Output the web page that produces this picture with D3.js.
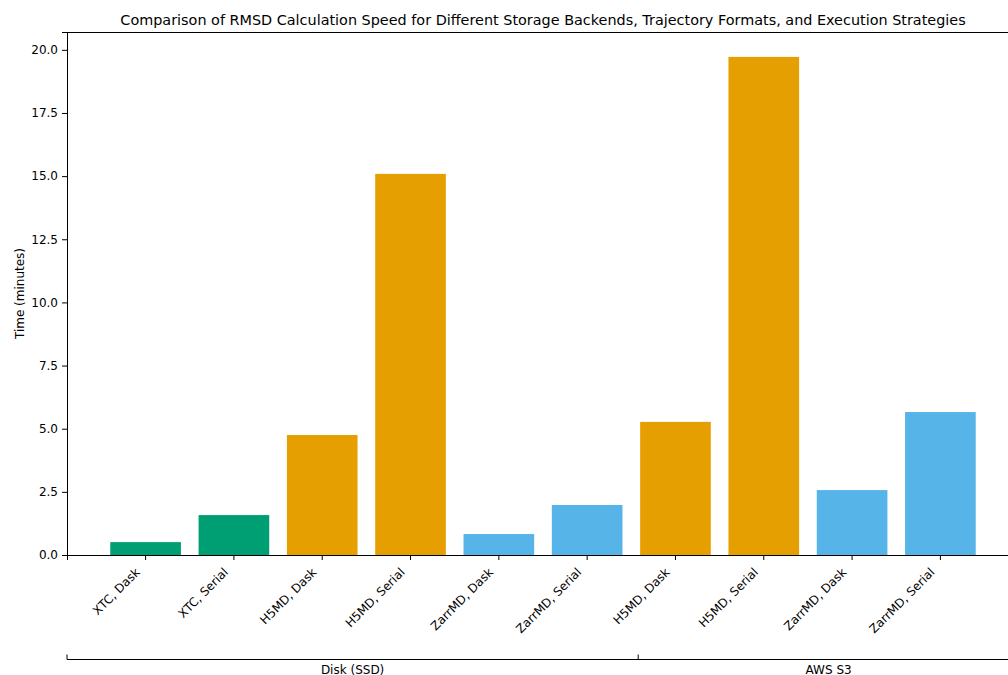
<!DOCTYPE html>
<html>
<head>
<meta charset="utf-8">
<script src="https://cdn.jsdelivr.net/npm/d3@7"></script>
<style>
  html, body { margin: 0; padding: 0; background: #fff; overflow: hidden; }
  svg { display: block; font-family: 'DejaVu Sans', sans-serif; }
</style>
</head>
<body>
<svg id="chart" width="1008" height="675"></svg>
<script>
const tickLabels = ['XTC, Dask', 'XTC, Serial', 'H5MD, Dask', 'H5MD, Serial', 'ZarrMD, Dask', 'ZarrMD, Serial',
                    'H5MD, Dask', 'H5MD, Serial', 'ZarrMD, Dask', 'ZarrMD, Serial']
const formats    = ['XTC', 'XTC', 'H5MD', 'H5MD', 'ZarrMD', 'ZarrMD', 'H5MD', 'H5MD', 'ZarrMD', 'ZarrMD']
const times      = [0.51, 1.58, 4.75, 15.09, 0.83, 1.98, 5.27, 19.72, 2.57, 5.66]
const storage    = ['Disk (SSD)', 'AWS S3']
const storageN   = [6, 4]
const yTicks     = [0, 2.5, 5, 7.5, 10, 12.5, 15, 17.5, 20]

const FORMAT_COLORS = { XTC: '#009e73', H5MD: '#e69f00', ZarrMD: '#56b4e9' }

const m = { left: 67, right: 1019, top: 32, bottom: 555 }
const FS = '12px'
const svg = d3.select('#chart')

const x = d3.scaleBand()
  .domain(d3.range(times.length))
  .range([m.left, m.right])
  .paddingInner(0.2).paddingOuter(0.49)

const y = d3.scaleLinear()
  .domain([0, d3.max(times) * 1.05])
  .range([m.bottom, m.top])

// bars
svg.append('g').selectAll('rect').data(times).enter().append('rect')
  .attr('x', (d, i) => x(i))
  .attr('y', d => y(d))
  .attr('width', x.bandwidth())
  .attr('height', d => y(0) - y(d))
  .attr('fill', (d, i) => FORMAT_COLORS[formats[i]])

// spines
const spine = svg.append('g').attr('stroke', '#000').attr('stroke-width', 1).attr('fill', 'none')
spine.append('line').attr('x1', m.left).attr('x2', m.right).attr('y1', m.top + 0.5).attr('y2', m.top + 0.5)
spine.append('line').attr('x1', m.right).attr('x2', m.right).attr('y1', m.top).attr('y2', m.bottom)

// y axis
const yAxis = svg.append('g')
  .attr('transform', `translate(${m.left},0)`)
  .call(d3.axisLeft(y).tickValues(yTicks).tickFormat(d3.format('.1f')).tickSizeOuter(0).tickSize(5).tickPadding(4))
yAxis.selectAll('text').attr('font-size', FS).attr('fill', '#000').attr('font-family', 'DejaVu Sans')
yAxis.select('.domain').attr('stroke', '#000')
yAxis.selectAll('.tick line').attr('stroke', '#000')

// x axis
const xAxis = svg.append('g')
  .attr('transform', `translate(0,${m.bottom})`)
  .call(d3.axisBottom(x).tickFormat(i => tickLabels[i]).tickSizeOuter(0).tickSize(5))
xAxis.select('.domain').attr('stroke', '#000')
xAxis.selectAll('.tick line').attr('stroke', '#000')
xAxis.selectAll('text')
  .attr('font-size', FS).attr('fill', '#000').attr('font-family', 'DejaVu Sans')
  .attr('text-anchor', 'end')
  .attr('dy', null).attr('y', null)
  .attr('transform', 'translate(-5,18) rotate(-45)')

// y label
svg.append('text')
  .attr('transform', `translate(24,${(m.top + m.bottom) / 2}) rotate(-90)`)
  .attr('text-anchor', 'middle')
  .attr('font-size', FS)
  .text('Time (minutes)')

// title
svg.append('text')
  .attr('x', 543).attr('y', 25)
  .attr('text-anchor', 'middle')
  .attr('font-size', '14.4px')
  .text('Comparison of RMSD Calculation Speed for Different Storage Backends, Trajectory Formats, and Execution Strategies')

// storage group axis
const gx = d3.scaleLinear().domain([0, d3.sum(storageN)]).range([m.left, m.right])
const bounds = [0, ...d3.cumsum(storageN)]
const mids = storageN.map((n, i) => bounds[i] + n / 2)
const gAxis = svg.append('g').attr('transform', 'translate(0,659.5)')
gAxis.append('line').attr('x1', m.left).attr('x2', m.right).attr('stroke', '#000')
gAxis.selectAll('line.gt').data(bounds).enter().append('line').attr('class', 'gt')
  .attr('x1', d => gx(d)).attr('x2', d => gx(d)).attr('y1', 0).attr('y2', -5).attr('stroke', '#000')
gAxis.selectAll('text').data(storage).enter().append('text')
  .attr('x', (d, i) => gx(mids[i])).attr('y', 14)
  .attr('text-anchor', 'middle').attr('font-size', FS)
  .text(d => d)
</script>
</body>
</html>
